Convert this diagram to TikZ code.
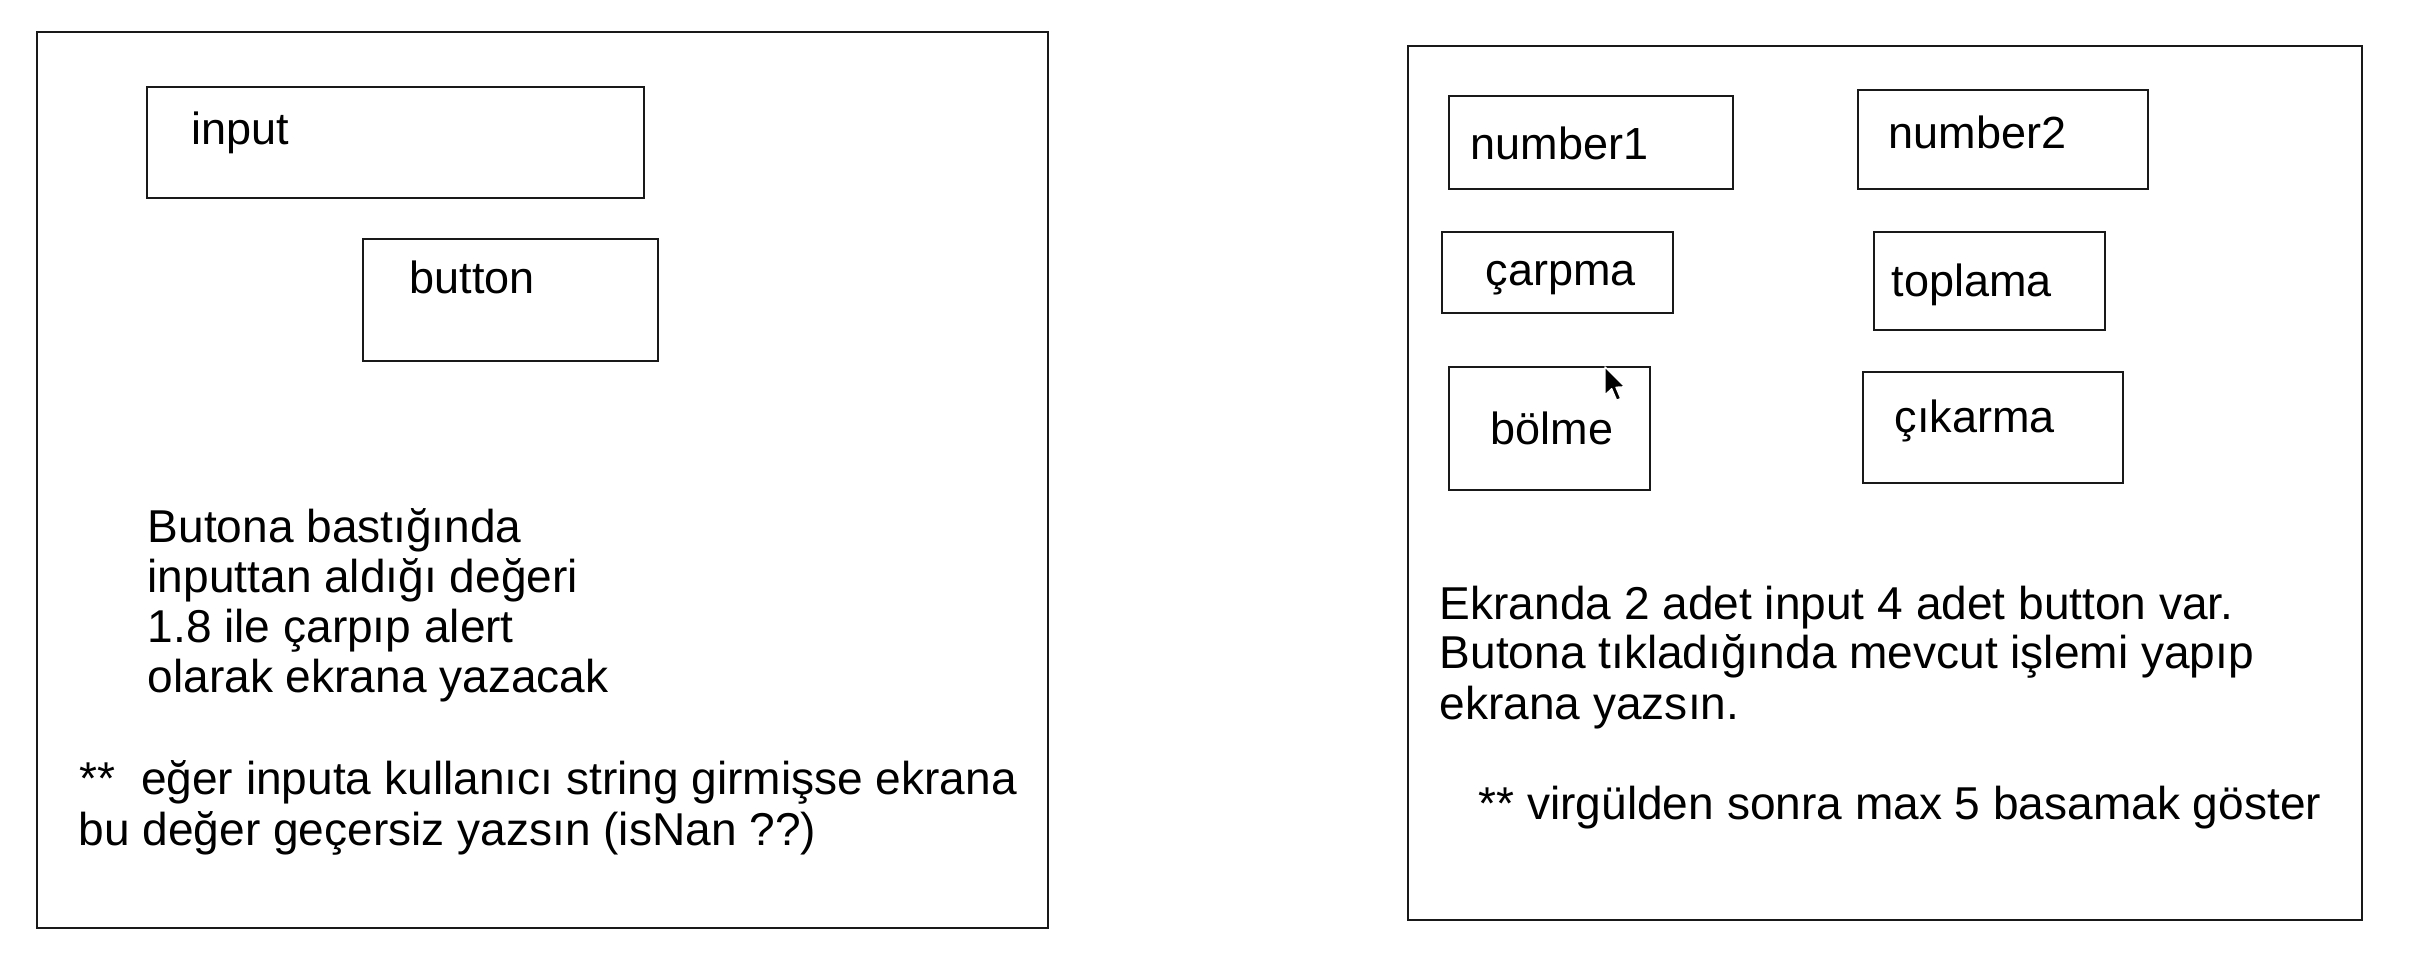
\documentclass[tikz,border=0pt]{standalone}
\usepackage{fontspec}
\setmainfont{Liberation Sans}
\usetikzlibrary{fit}
\begin{document}
\begin{tikzpicture}[x=0.01cm, y=-0.01cm,
  box/.style={draw=black!90, line width=0.022cm, inner sep=0pt, rectangle},
  lbl/.style={anchor=base west, inner sep=0pt, font=\fontsize{12.8pt}{14.4pt}\selectfont},
  txt/.style={anchor=base west, inner sep=0pt, font=\fontsize{13.1pt}{14.4pt}\selectfont}]
\useasboundingbox[fill=white] (0,0) rectangle (2411,957);
% left panel
\coordinate (l1) at (37,32); \coordinate (l2) at (1048,928);
\node[box, fit=(l1)(l2)] (leftpanel) {};
\coordinate (i1) at (147,87); \coordinate (i2) at (644,198);
\node[box, fit=(i1)(i2)] (inputbox) {};
\coordinate (b1) at (363,239); \coordinate (b2) at (658,361);
\node[box, fit=(b1)(b2)] (buttonbox) {};
\node[lbl] (inputlbl) at (191,144) {input};
\node[lbl] (buttonlbl) at (409,293) {button};
\node[txt] (lt1) at (147,542) {Butona bastığında};
\node[txt] (lt2) at (147,592) {inputtan aldığı değeri};
\node[txt] (lt3) at (147,642) {1.8 ile çarpıp alert};
\node[txt] (lt4) at (147,692) {olarak ekrana yazacak};
\node[txt] (ln1) at (79,794) {**\ \ eğer inputa kullanıcı string girmişse ekrana};
\node[txt] (ln2) at (78,845) {bu değer geçersiz yazsın (isNan ??)};
% right panel
\coordinate (r1) at (1408,46); \coordinate (r2) at (2362,920);
\node[box, fit=(r1)(r2)] (rightpanel) {};
\coordinate (n1a) at (1449,96); \coordinate (n1b) at (1733,189);
\node[box, fit=(n1a)(n1b)] (num1box) {};
\coordinate (n2a) at (1858,90); \coordinate (n2b) at (2148,189);
\node[box, fit=(n2a)(n2b)] (num2box) {};
\coordinate (ca) at (1442,232); \coordinate (cb) at (1673,313);
\node[box, fit=(ca)(cb)] (carpbox) {};
\coordinate (ta) at (1874,232); \coordinate (tb) at (2105,330);
\node[box, fit=(ta)(tb)] (topbox) {};
\coordinate (ba) at (1449,367); \coordinate (bb) at (1650,490);
\node[box, fit=(ba)(bb)] (bolbox) {};
\coordinate (ka) at (1863,372); \coordinate (kb) at (2123,483);
\node[box, fit=(ka)(kb)] (cikbox) {};
\node[lbl] (num1lbl) at (1470,159) {number1};
\node[lbl] (num2lbl) at (1888,148) {number2};
\node[lbl] (carplbl) at (1485,285) {çarpma};
\node[lbl] (toplbl) at (1891,296) {toplama};
\node[lbl] (bollbl) at (1490,444) {bölme};
\node[lbl] (ciklbl) at (1894,432) {çıkarma};
\node[txt] (rt1) at (1439,619) {Ekranda 2 adet input 4 adet button var.};
\node[txt] (rt2) at (1439,668) {Butona tıkladığında mevcut işlemi yapıp};
\node[txt] (rt3) at (1439,719) {ekrana yazsın.};
\node[txt] (rt4) at (1478,819) {** virgülden sonra max 5 basamak göster};
% mouse cursor
\begin{scope}[shift={(1605,367)}, x=0.0175cm, y=-0.0175cm]
\draw[fill=black, draw=white, line width=0.4pt, line join=round]
  (0,0) -- (0,16) -- (3.8,12.4) -- (6.6,19) -- (9,18) -- (6.3,11.6) -- (11.3,11.3) -- cycle;
\end{scope}
\end{tikzpicture}
\end{document}
